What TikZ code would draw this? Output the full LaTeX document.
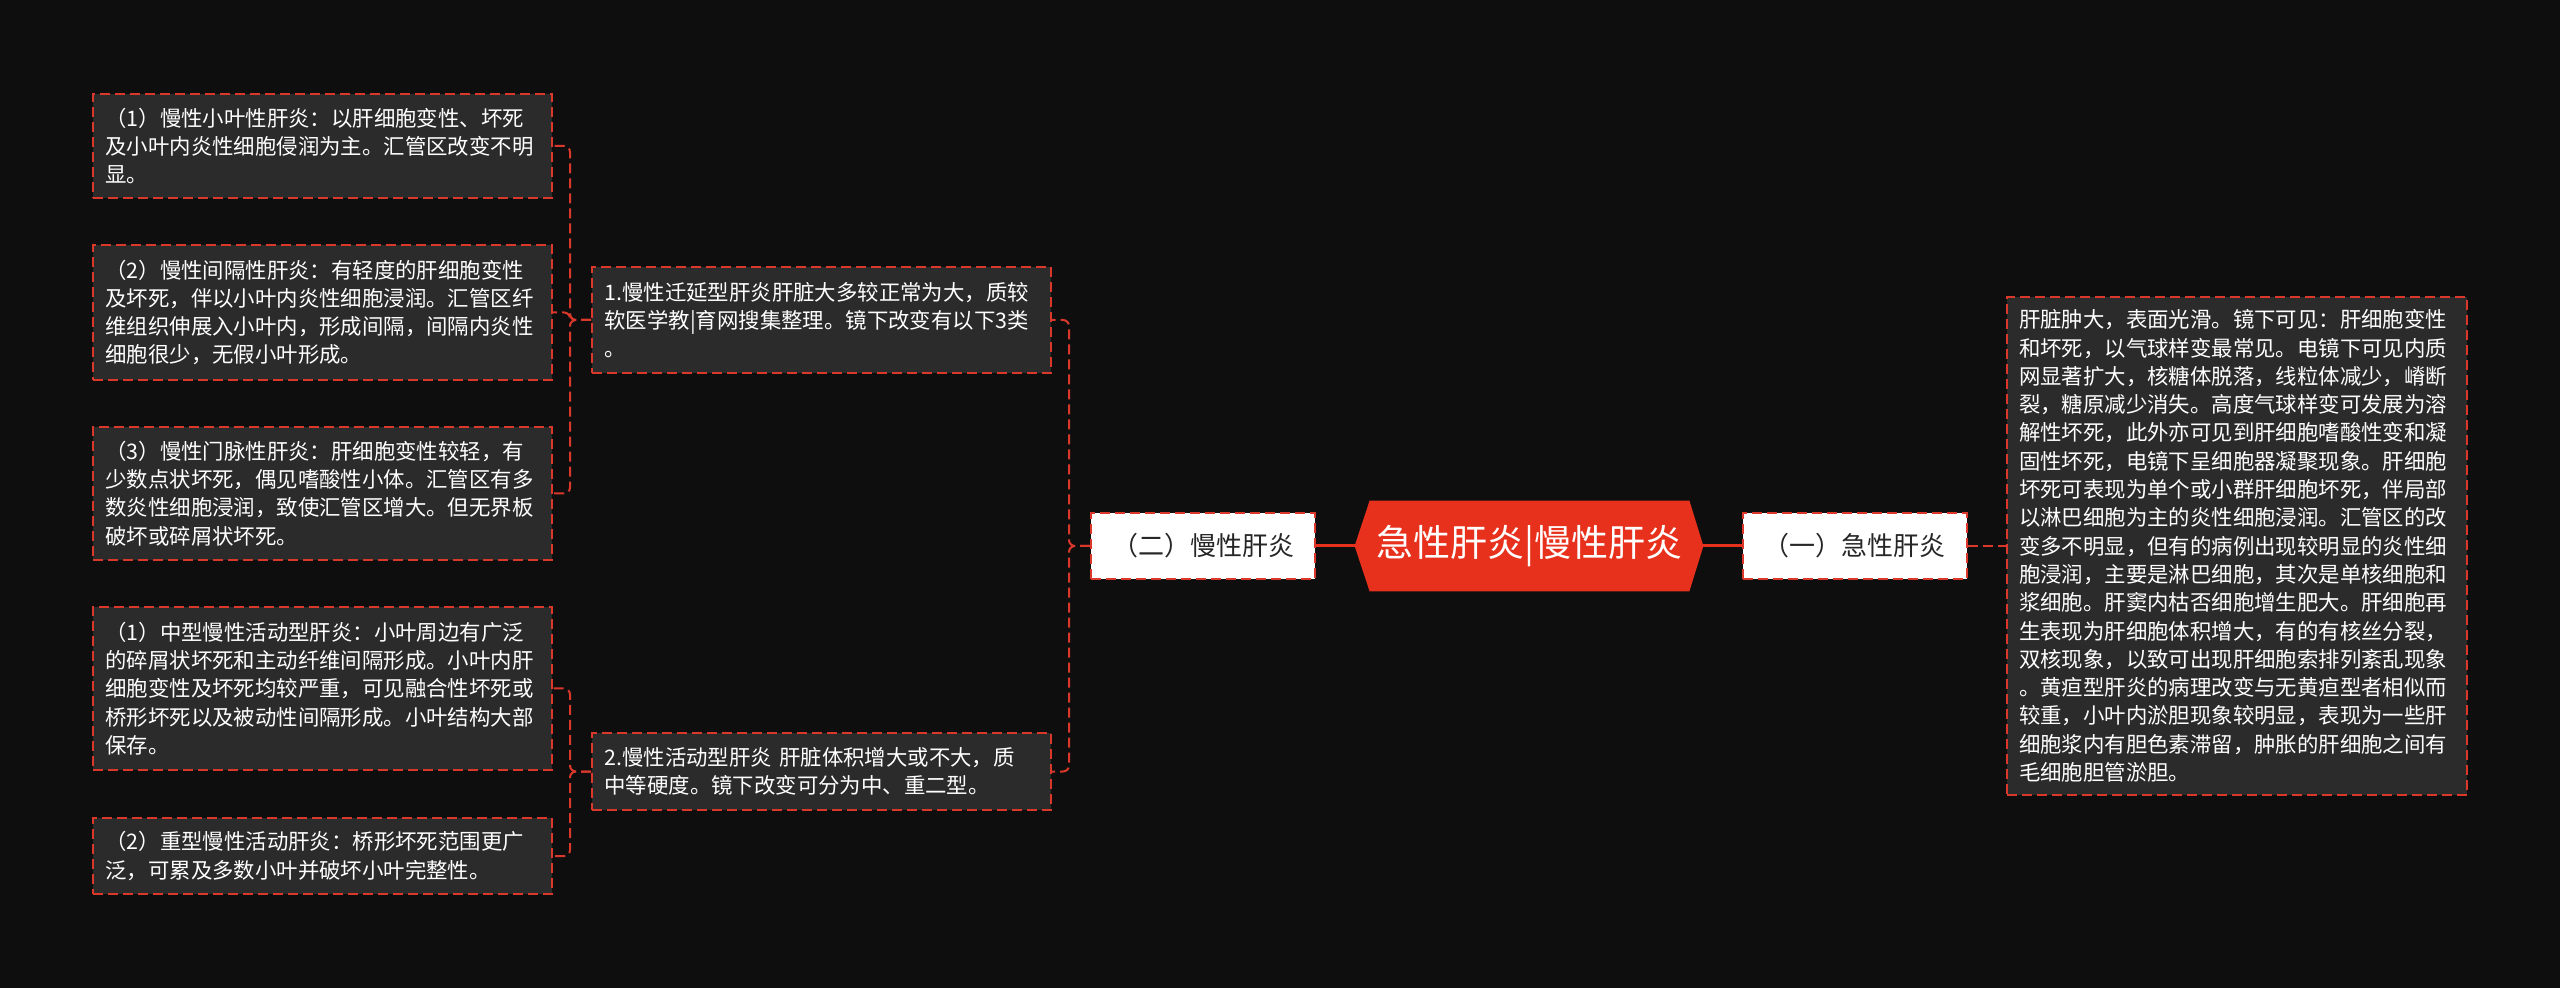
\documentclass[tikz,border=0pt]{standalone}
\usepackage{fontspec}
\setmainfont{Noto Sans CJK SC}
\usepackage{xcolor}
\usetikzlibrary{backgrounds}

\definecolor{bgcol}{HTML}{0E0E0E}
\definecolor{boxgray}{HTML}{2B2B2B}
\definecolor{linkred}{HTML}{D9382B}
\definecolor{rootred}{HTML}{E8311D}

\tikzset{
    leafbox/.style={draw=linkred, line width=1pt, dash pattern=on 5pt off 2.5pt,
        fill=boxgray, text=white, align=left, text width=217pt, inner xsep=6pt,
        minimum width=229.5pt, font=\fontsize{10.7pt}{14.15pt}\selectfont},
    topicbox/.style={draw=linkred, line width=1pt, dash pattern=on 5pt off 2.5pt,
        fill=white, text=black!85, minimum width=112pt, minimum height=33pt,
        font=\fontsize{13pt}{16pt}\selectfont},
    root/.style={text=white, minimum width=174pt, minimum height=45pt, inner sep=0pt,
        font=\fontsize{18.5pt}{22pt}\selectfont},
    link/.style={draw=linkred, line width=1pt, dash pattern=on 5pt off 2.5pt, rounded corners=3pt},
    mainlink/.style={draw=rootred, line width=1.5pt}
}

\begin{document}
\begin{tikzpicture}[x=0.5pt, y=-0.5pt]
        \useasboundingbox (0, 0) rectangle (2560, 988);
        \begin{scope}[on background layer]
            \fill[bgcol] (0, 0) rectangle (2560, 988);
        \end{scope}

        % centre and the two topics
        \node[root] (root) at (1529, 546) {急性肝炎|慢性肝炎};
        \begin{scope}[on background layer]
            \fill[rootred] ([xshift=7.5pt]root.north west) -- ([xshift=-7pt]root.north east)
                -- (root.east) -- ([xshift=-7pt]root.south east)
                -- ([xshift=7.5pt]root.south west) -- (root.west) -- cycle;
        \end{scope}
        \node[topicbox] (chronic) at (1203, 546) {（二）慢性肝炎};
        \node[topicbox] (acute) at (1854.5, 546) {（一）急性肝炎};

        % acute side
        \node[leafbox, text width=218pt, minimum width=230pt, minimum height=249pt] (acutetext) at (2237, 546) {%
            肝脏肿大，表面光滑。镜下可见：肝细胞变性\\
            和坏死，以气球样变最常见。电镜下可见内质\\
            网显著扩大，核糖体脱落，线粒体减少，嵴断\\
            裂，糖原减少消失。高度气球样变可发展为溶\\
            解性坏死，此外亦可见到肝细胞嗜酸性变和凝\\
            固性坏死，电镜下呈细胞器凝聚现象。肝细胞\\
            坏死可表现为单个或小群肝细胞坏死，伴局部\\
            以淋巴细胞为主的炎性细胞浸润。汇管区的改\\
            变多不明显，但有的病例出现较明显的炎性细\\
            胞浸润，主要是淋巴细胞，其次是单核细胞和\\
            浆细胞。肝窦内枯否细胞增生肥大。肝细胞再\\
            生表现为肝细胞体积增大，有的有核丝分裂，\\
            双核现象，以致可出现肝细胞索排列紊乱现象\\
            。黄疸型肝炎的病理改变与无黄疸型者相似而\\
            较重，小叶内淤胆现象较明显，表现为一些肝\\
            细胞浆内有胆色素滞留，肿胀的肝细胞之间有\\
            毛细胞胆管淤胆。};

        % chronic side
        \node[leafbox, minimum height=53pt] (persist) at (821.5, 320) {%
            1.慢性迁延型肝炎肝脏大多较正常为大，质较\\
            软医学教|育网搜集整理。镜下改变有以下3类\\
            。};
        \node[leafbox, minimum height=38.5pt] (active) at (821.5, 771.5) {%
            2.慢性活动型肝炎 肝脏体积增大或不大，质\\
            中等硬度。镜下改变可分为中、重二型。};

        \node[leafbox, minimum height=52pt] (lobular) at (322.5, 146) {%
            （1）慢性小叶性肝炎：以肝细胞变性、坏死\\
            及小叶内炎性细胞侵润为主。汇管区改变不明\\
            显。};
        \node[leafbox, minimum height=67.5pt] (septal) at (322.5, 312.5) {%
            （2）慢性间隔性肝炎：有轻度的肝细胞变性\\
            及坏死，伴以小叶内炎性细胞浸润。汇管区纤\\
            维组织伸展入小叶内，形成间隔，间隔内炎性\\
            细胞很少，无假小叶形成。};
        \node[leafbox, minimum height=66.5pt] (portal) at (322.5, 493.5) {%
            （3）慢性门脉性肝炎：肝细胞变性较轻，有\\
            少数点状坏死，偶见嗜酸性小体。汇管区有多\\
            数炎性细胞浸润，致使汇管区增大。但无界板\\
            破坏或碎屑状坏死。};
        \node[leafbox, minimum height=81.5pt] (moderate) at (322.5, 688.5) {%
            （1）中型慢性活动型肝炎：小叶周边有广泛\\
            的碎屑状坏死和主动纤维间隔形成。小叶内肝\\
            细胞变性及坏死均较严重，可见融合性坏死或\\
            桥形坏死以及被动性间隔形成。小叶结构大部\\
            保存。};
        \node[leafbox, minimum height=38pt] (severe) at (322.5, 856) {%
            （2）重型慢性活动肝炎：桥形坏死范围更广\\
            泛，可累及多数小叶并破坏小叶完整性。};

        % connectors
        \draw[mainlink] (root.west) -- (chronic.east);
        \draw[mainlink] (root.east) -- (acute.west);
        \draw[link] (acute.east) -- (acutetext.west);
        \draw[link] (chronic.west) -- ++(-21, 0) |- (persist.east);
        \draw[link] (chronic.west) -- ++(-21, 0) |- (active.east);
        \draw[link] (persist.west) -- ++(-21, 0) |- (lobular.east);
        \draw[link] (persist.west) -- ++(-21, 0) |- (septal.east);
        \draw[link] (persist.west) -- ++(-21, 0) |- (portal.east);
        \draw[link] (active.west) -- ++(-21, 0) |- (moderate.east);
        \draw[link] (active.west) -- ++(-21, 0) |- (severe.east);
    \end{tikzpicture}
\end{document}
